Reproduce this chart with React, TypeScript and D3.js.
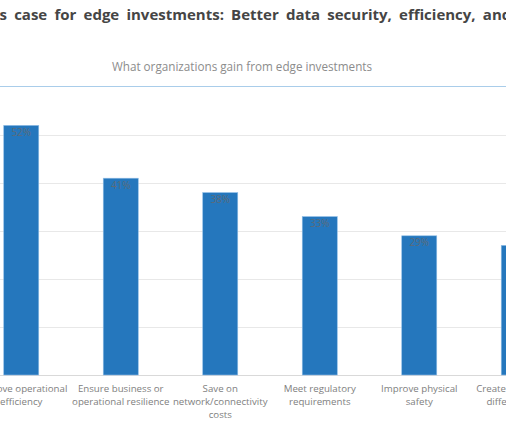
import React, { useEffect, useRef } from "react";
import * as d3 from "d3";

const categories = [
  "Improve operational efficiency",
  "Ensure business or operational resilience",
  "Save on network/connectivity costs",
  "Meet regulatory requirements",
  "Improve physical safety",
  "Create competitive differentiation",
];
const values = [0.52, 0.41, 0.38, 0.33, 0.29, 0.27];
const gridTicks = [0, 0.1, 0.2, 0.3, 0.4, 0.5];
const title =
  "The business case for edge investments: Better data security, efficiency, and reliability";
const subtitle = "What organizations gain from edge investments";

const W = 506;
const H = 422;
const FONT = "'Open Sans', sans-serif";

export default function App() {
  const ref = useRef<SVGSVGElement | null>(null);

  useEffect(() => {
    const svg = d3.select(ref.current);
    svg.selectAll("*").remove();

    const x = d3
      .scaleBand<string>()
      .domain(categories)
      .range([-28.5, 568.5])
      .paddingInner(0.648)
      .paddingOuter(0.324);
    const y = d3.scaleLinear().domain([0, 0.6]).range([375, 87]);

    svg.append("rect").attr("width", W).attr("height", H).attr("fill", "#fff");

    // title
    const t = svg
      .append("text")
      .attr("y", 19.5)
      .attr("font-family", FONT)
      .attr("font-weight", 700)
      .attr("font-size", 15)
      .attr("word-spacing", 3.3)
      .attr("fill", "#454545")
      .text(title);
    const tn = t.node() as SVGTextElement;
    const off = tn.getSubStringLength(0, title.indexOf("s case"));
    t.attr("x", -off - 0.5);

    // subtitle
    svg
      .append("text")
      .attr("x", 242)
      .attr("y", 71)
      .attr("text-anchor", "middle")
      .attr("font-family", FONT)
      .attr("font-size", 11.7)
      .attr("fill", "#8c8c8c")
      .text(subtitle);

    svg
      .append("line")
      .attr("x1", 0)
      .attr("x2", W)
      .attr("y1", 86.5)
      .attr("y2", 86.5)
      .attr("stroke", "#a9cdea")
      .attr("stroke-width", 1.2);

    // gridlines
    svg
      .append("g")
      .selectAll("line")
      .data(gridTicks)
      .join("line")
      .attr("x1", 0)
      .attr("x2", W)
      .attr("y1", (d) => Math.round(y(d)) + 0.5)
      .attr("y2", (d) => Math.round(y(d)) + 0.5)
      .attr("stroke", (d) => (d === 0 ? "#d9d9d9" : "#e8e8e8"))
      .attr("stroke-width", 1);

    // bars
    svg
      .append("g")
      .selectAll("rect")
      .data(values)
      .join("rect")
      .attr("x", (_, i) => x(categories[i])!)
      .attr("width", x.bandwidth())
      .attr("y", (d) => y(d))
      .attr("height", (d) => y(0) - y(d))
      .attr("fill", "#2577bd")
      .attr("stroke", "#8fbde6")
      .attr("stroke-width", 0.6);

    // value labels
    svg
      .append("g")
      .selectAll("text")
      .data(values)
      .join("text")
      .attr("x", (_, i) => x(categories[i])! + x.bandwidth() / 2)
      .attr("y", (d) => y(d) + 10.5)
      .attr("text-anchor", "middle")
      .attr("font-family", FONT)
      .attr("font-size", 10)
      .attr("fill", "#5b6b7a")
      .text((d) => `${Math.round(d * 100)}%`);

    // category labels with wrapping
    const maxW = 104;
    const lh = 12.8;
    categories.forEach((c) => {
      const cx = x(c)! + x.bandwidth() / 2;
      const txt = svg
        .append("text")
        .attr("text-anchor", "middle")
        .attr("font-family", FONT)
        .attr("font-size", 9.7)
        .attr("fill", "#808080");
      const words = c.split(" ");
      let line: string[] = [];
      let lineNo = 0;
      let ts = txt.append("tspan").attr("x", cx).attr("y", 392);
      words.forEach((w) => {
        line.push(w);
        ts.text(line.join(" "));
        if ((ts.node() as SVGTSpanElement).getComputedTextLength() > maxW && line.length > 1) {
          line.pop();
          ts.text(line.join(" "));
          line = [w];
          lineNo += 1;
          ts = txt
            .append("tspan")
            .attr("x", cx)
            .attr("y", 392 + lineNo * lh)
            .text(w);
        }
      });
    });
  }, []);

  return (
    <div style={{ position: "absolute", left: 0, top: 0, width: W, height: H, overflow: "hidden" }}>
      <svg ref={ref} width={W} height={H} style={{ display: "block" }} />
    </div>
  );
}
